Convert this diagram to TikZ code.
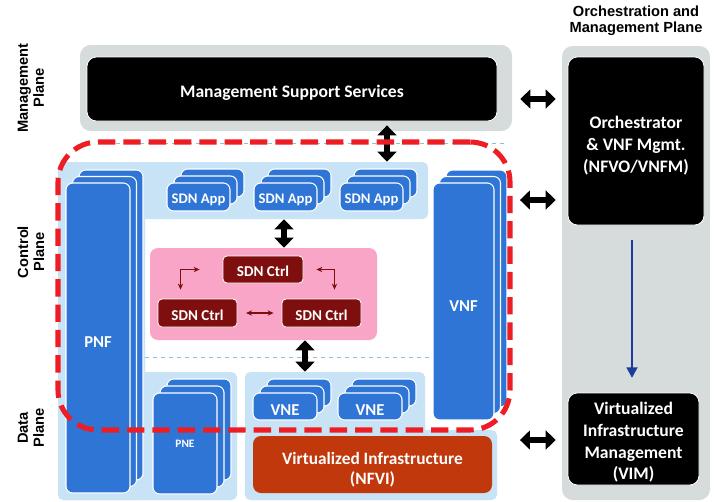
\documentclass[tikz,border=0pt]{standalone}
\usepackage{fontspec}
\setmainfont{Carlito}
\newfontfamily\planefont{Liberation Sans}
\usepackage{tikz}
\usetikzlibrary{arrows.meta,calc,fit,positioning}

\definecolor{bgGray}{HTML}{D6DCDC}
\definecolor{lightBlue}{HTML}{C7E3F5}
\definecolor{stackBlue}{HTML}{2E75D6}
\definecolor{ctrlPink}{HTML}{F8A5C8}
\definecolor{ctrlRed}{HTML}{7F0E0E}
\definecolor{nfviOrange}{HTML}{C0380C}
\definecolor{dashRed}{HTML}{EE1D23}
\definecolor{navyArrow}{HTML}{1C3C99}
\definecolor{sepBlue}{HTML}{8CBEE0}

% stacked boxes: [options]{step}{name}{x1}{y1}{x2}{y2}{text}
\newcommand\nfstack[8][]{%
  \draw[stackbox] (#4+2*#2,#5-2*#2) rectangle (#6+2*#2,#7-2*#2);
  \draw[stackbox] (#4+#2,#5-#2) rectangle (#6+#2,#7-#2);
  \node[stackbox,pxbox={#4}{#5}{#6}{#7},#1] (#3) {#8};}
\newcommand\appfont{\fontsize{11}{13}\selectfont}

\begin{document}
\begin{tikzpicture}[x=0.75pt,y=-0.75pt,>=Latex,
  pxbox/.style n args={4}{minimum width={(#3-#1)*0.75pt},minimum height={(#4-#2)*0.75pt},
    at={({(#1+#3)/2},{(#2+#4)/2})},inner sep=0pt,anchor=center},
  panel/.style={fill=bgGray,rounded corners=8pt},
  blackbox/.style={fill=black,draw=white,line width=0.6pt,rounded corners=7pt,
    text=white,align=center,text height=15.5pt,font=\bfseries\fontsize{13.2}{16.2}\selectfont},
  band/.style={fill=lightBlue,rounded corners=4pt},
  stackbox/.style={fill=stackBlue,draw=white,line width=0.8pt,rounded corners=5pt,
    text=white,text height=14.5pt,font=\bfseries\fontsize{12.5}{15}\selectfont},
  ctrl/.style={fill=ctrlRed,draw=white,line width=0.6pt,rounded corners=3pt,
    text=white,text height=11pt,font=\bfseries\fontsize{11.3}{13}\selectfont},
  fat/.style={line width=5pt,{Triangle[width=14pt,length=7.5pt]}-{Triangle[width=14pt,length=7.5pt]}},
  thinarr/.style={ctrlRed,line width=0.8pt,{Stealth[length=4.5pt,width=4pt]}-{Stealth[length=4.5pt,width=4pt]}},
  navyarr/.style={navyArrow,line width=2pt,-{Triangle[width=8pt,length=8pt]}},
  sep/.style={sepBlue,dashed,line width=0.5pt},
  planelab/.style={font=\planefont\bfseries\fontsize{11}{12}\selectfont,align=center}]
\useasboundingbox (0,0) rectangle (721,501);

% plane panels
\node[panel,pxbox={80}{45}{512}{131}] (mgmtbg) {};
\node[panel,pxbox={562}{46}{710}{500}] (orchbg) {};
\node[blackbox,pxbox={87}{57}{497}{121}] (mss) {Management Support Services};
\node[blackbox,pxbox={568}{57}{704}{225},text height=48.5pt] (orch) {Orchestrator\\\& VNF Mgmt.\\(NFVO/VNFM)};
\node[blackbox,pxbox={568}{393}{699}{485},text height=63pt] (vim) {Virtualized\\Infrastructure\\Management\\(VIM)};

% light blue bands
\node[band,pxbox={60}{162}{428}{219}] (appband) {};
\node[band,pxbox={58}{162}{145}{500}] (pnfband) {};
\node[band,pxbox={58}{372}{237}{500}] (pneband) {};
\node[band,pxbox={245}{372}{425}{436}] (vneband) {};
\node[band,pxbox={245}{430}{497}{500}] (nfviband) {};

\draw[sep] (100,143) -- (505,143);
\draw[sep] (145,357) -- (432,357);

% stacks
\nfstack{6.5}{pnf}{66}{183}{130}{493}{PNF}
\nfstack{6.5}{vnf}{433}{183}{494}{420}{VNF}
\nfstack[text height=6pt]{7}{pne}{153}{393}{217}{494}{\fontsize{8.5}{10}\selectfont PNE}
\nfstack[text height=11pt]{7}{appA}{167}{183}{230}{211}{\appfont SDN App}
\nfstack[text height=11pt]{7}{appB}{254}{183}{317}{211}{\appfont SDN App}
\nfstack[text height=11pt]{7}{appC}{340}{183}{403}{211}{\appfont SDN App}
\nfstack[text height=13.5pt]{7}{vneA}{253}{393}{317}{420}{VNE}
\nfstack[text height=13.5pt]{7}{vneB}{338}{393}{402}{420}{VNE}

% controllers
\node[fill=ctrlPink,rounded corners=6pt,pxbox={150}{248}{377}{340}] (pink) {};
\node[ctrl,pxbox={223}{256}{303}{283}] (ctrlTop) {SDN Ctrl};
\node[ctrl,pxbox={158}{299}{237}{327}] (ctrlLeft) {SDN Ctrl};
\node[ctrl,pxbox={282}{299}{361}{327}] (ctrlRight) {SDN Ctrl};
\draw[thinarr] ($(ctrlTop.west)+(-23,0)$) -| ($(ctrlLeft.north)+(-17,-9)$);
\draw[thinarr] ($(ctrlTop.east)+(13,0)$) -| ($(ctrlRight.north)+(13,-9)$);
\draw[thinarr,shorten <=6.5pt,shorten >=6pt] (ctrlLeft) -- (ctrlRight);

\node[fill=nfviOrange,rounded corners=6pt,text=white,align=center,text height=32.5pt,
  font=\bfseries\fontsize{13}{15.5}\selectfont,pxbox={253}{436}{492}{493}] (nfvi)
  {Virtualized Infrastructure\\(NFVI)};

% interfaces
\draw[fat,shorten <=3pt] (mss.south -| 387,0) -- (appband.north -| 387,0);
\draw[fat] (appband.south -| 284,0) -- (pink.north -| 284,0);
\draw[fat] (pink.south -| 305,0) -- (vneband.north -| 305,0);
\draw[fat,shorten <=6pt,shorten >=4.5pt] (mgmtbg.east |- 0,99) -- (orchbg.west |- 0,99);
\draw[fat,shorten <=17pt,shorten >=4.5pt] (nfviband.east |- 0,200) -- (orchbg.west |- 0,200);
\draw[fat,shorten <=17pt,shorten >=4.5pt] (nfviband.east |- 0,440) -- (orchbg.west |- 0,440);
\draw[navyarr,shorten <=11pt,shorten >=11pt] (orch.south -| 632,0) -- (vim.north -| 632,0);

% control plane boundary
\node[draw=dashRed,line width=3.8pt,dash pattern=on 13pt off 6pt,rounded corners=30pt,
  pxbox={58}{142}{510}{430}] (ctrlzone) {};

% plane labels
\node[planelab,rotate=90] (lmgmt) at (31,88) {Management\\Plane};
\node[planelab,rotate=90] (lctrl) at (31,252) {Control\\Plane};
\node[planelab,rotate=90] (ldata) at (31,428) {Data\\Plane};
\node[planelab] (lorch) at (636,21) {Orchestration and\\Management Plane};
\end{tikzpicture}
\end{document}
